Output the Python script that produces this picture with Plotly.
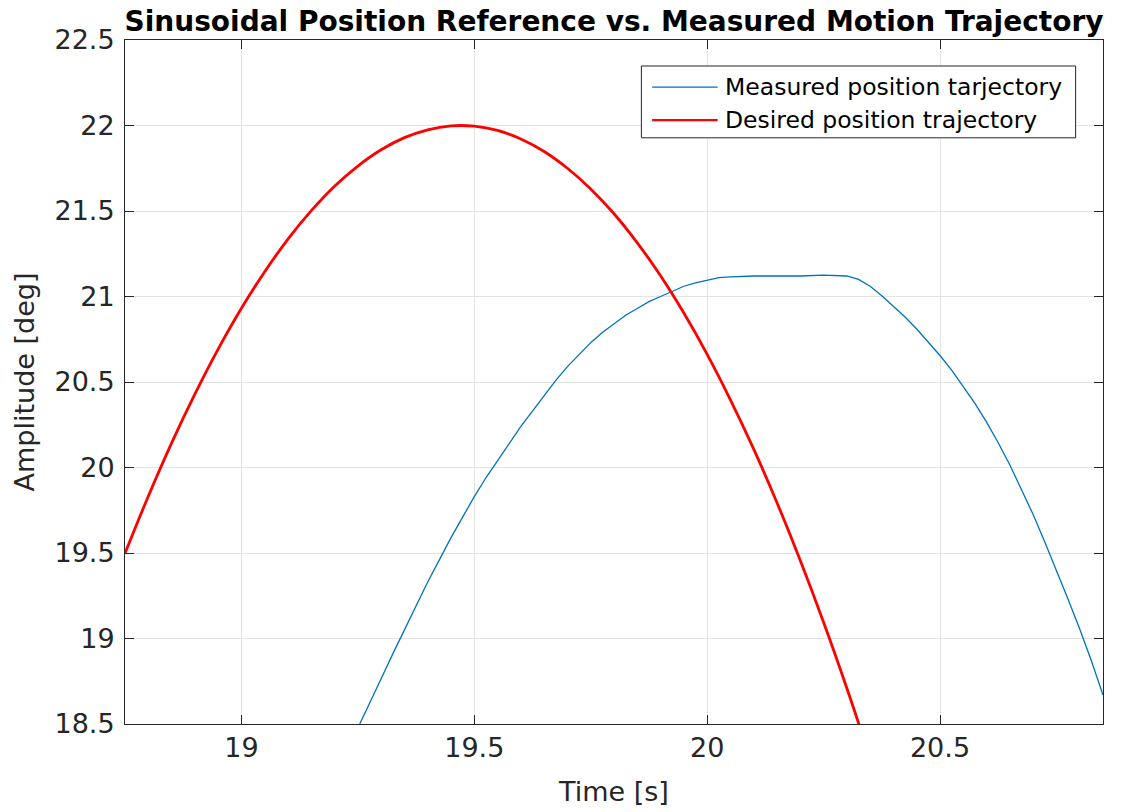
import plotly.graph_objects as go

# Desired (reference) position trajectory, deg vs s
t_desired = [18.75, 18.80, 18.85, 18.90, 18.95, 19.00, 19.05, 19.10, 19.15, 19.20,
             19.25, 19.30, 19.35, 19.40, 19.45, 19.50, 19.55, 19.60, 19.65, 19.70,
             19.75, 19.80, 19.85, 19.90, 19.95, 20.00, 20.05, 20.10, 20.15, 20.20,
             20.25, 20.30, 20.35]
pos_desired = [19.498, 19.832, 20.143, 20.429, 20.692, 20.931, 21.145, 21.336, 21.502, 21.645,
               21.763, 21.858, 21.929, 21.975, 21.998, 21.996, 21.971, 21.921, 21.848, 21.750,
               21.629, 21.484, 21.314, 21.121, 20.903, 20.662, 20.396, 20.107, 19.794, 19.456,
               19.095, 18.709, 18.300]

# Measured position trajectory, deg vs s
t_measured = [19.254, 19.275, 19.300, 19.325, 19.350, 19.375, 19.400, 19.425, 19.450, 19.475,
              19.500, 19.525, 19.550, 19.575, 19.600, 19.625, 19.650, 19.675, 19.700, 19.725,
              19.750, 19.775, 19.800, 19.825, 19.850, 19.875, 19.900, 19.925, 19.950, 19.975,
              20.000, 20.025, 20.050, 20.100, 20.150, 20.200, 20.250, 20.300, 20.325, 20.350,
              20.375, 20.400, 20.425, 20.450, 20.475, 20.500, 20.525, 20.550, 20.575, 20.600,
              20.625, 20.650, 20.675, 20.700, 20.725, 20.750, 20.775, 20.800, 20.825, 20.850]
pos_measured = [18.50, 18.625, 18.765, 18.91, 19.05, 19.19, 19.33, 19.46, 19.59, 19.71,
                19.83, 19.94, 20.04, 20.14, 20.24, 20.33, 20.42, 20.51, 20.59, 20.66,
                20.73, 20.79, 20.84, 20.89, 20.93, 20.97, 21.00, 21.03, 21.06, 21.08,
                21.095, 21.11, 21.115, 21.12, 21.12, 21.12, 21.125, 21.12, 21.10, 21.06,
                21.005, 20.945, 20.88, 20.81, 20.735, 20.655, 20.57, 20.475, 20.375, 20.265,
                20.145, 20.015, 19.875, 19.725, 19.565, 19.40, 19.23, 19.055, 18.87, 18.67]

x_ticks = [19, 19.5, 20, 20.5]
y_ticks = [18.5, 19, 19.5, 20, 20.5, 21, 21.5, 22, 22.5]
x_range = [18.75, 20.85]
y_range = [18.5, 22.5]

series_names = ["Measured position tarjectory", "Desired position trajectory"]
blue = "#0072BD"
red = "#FF0000"
font_family = "DejaVu Sans, Liberation Sans, Arial, sans-serif"
ink = "#262626"

fig = go.Figure()
fig.add_trace(go.Scatter(x=t_measured, y=pos_measured, mode="lines",
                         name=series_names[0], line=dict(color=blue, width=1.3)))
fig.add_trace(go.Scatter(x=t_desired, y=pos_desired, mode="lines", line_shape="spline",
                         name=series_names[1], line=dict(color=red, width=2.8)))

axis_common = dict(
    showline=True, linecolor=ink, linewidth=1, mirror="ticks",
    ticks="inside", ticklen=9, tickcolor=ink, tickwidth=1,
    showgrid=True, gridcolor="#E3E3E3", gridwidth=1,
    zeroline=False,
    tickfont=dict(family=font_family, size=27, color=ink),
)

fig.update_xaxes(range=x_range, tickvals=x_ticks, ticktext=[f"{v:g}" for v in x_ticks],
                 title=dict(text="Time [s]", font=dict(family=font_family, size=27, color=ink),
                            standoff=19),
                 **axis_common)
fig.update_yaxes(range=y_range, tickvals=y_ticks, ticktext=[f"{v:g}" for v in y_ticks],
                 ticklabelstandoff=4,
                 title=dict(text="Amplitude [deg]", font=dict(family=font_family, size=27, color=ink),
                            standoff=12),
                 **axis_common)

# Boxed legend in the upper right of the axes
leg_x0, leg_x1 = 0.528, 0.972
leg_y0, leg_y1 = 0.857, 0.962
row_y = [0.931, 0.883]
fig.add_shape(type="rect", xref="paper", yref="paper", x0=leg_x0, x1=leg_x1, y0=leg_y0, y1=leg_y1,
              line=dict(color=ink, width=1), fillcolor="white", layer="above")
for name, color, width, yy in zip(series_names, [blue, red], [1.3, 2.2], row_y):
    fig.add_shape(type="line", xref="paper", yref="paper", x0=0.539, x1=0.606, y0=yy, y1=yy,
                  line=dict(color=color, width=width), layer="above")
    fig.add_annotation(xref="paper", yref="paper", x=0.611, y=yy, text=name, showarrow=False,
                       xanchor="left", yanchor="middle",
                       font=dict(family=font_family, size=23.5, color="black"))

fig.update_layout(
    width=1121, height=812,
    margin=dict(l=125, r=18, t=40, b=88),
    paper_bgcolor="white", plot_bgcolor="white",
    showlegend=False,
    title=dict(text="<b>Sinusoidal Position Reference vs. Measured Motion Trajectory</b>",
               x=0.5, xref="paper", xanchor="center",
               y=1 - 21 / 812, yref="container", yanchor="middle",
               font=dict(family=font_family, size=28, color="black")),
)

fig.write_html("out.html")
